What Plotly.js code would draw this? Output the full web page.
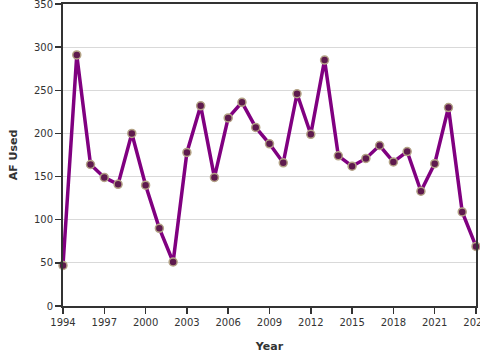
<!DOCTYPE html>
<html>
<head>
<meta charset="utf-8">
<script src="https://cdn.plot.ly/plotly-3.0.1.min.js"></script>
<style>html,body{margin:0;padding:0;background:#fff;}#chart{width:480px;height:360px;}</style>
</head>
<body>
<div id="chart"></div>
<script>
const years = [1994,1995,1996,1997,1998,1999,2000,2001,2002,2003,2004,2005,2006,2007,2008,2009,2010,2011,2012,2013,2014,2015,2016,2017,2018,2019,2020,2021,2022,2023,2024];
const afUsed = [47,291,164,149,141,200,140,90,51,178,232,149,218,236,207,188,166,246,199,285,174,162,171,186,167,179,133,165,230,109,69];
const xTicks = [1994,1997,2000,2003,2006,2009,2012,2015,2018,2021,2024];
const yTicks = [0,50,100,150,200,250,300,350];

const trace = {
  x: years, y: afUsed, type: 'scatter', mode: 'lines+markers',
  line: {color: '#800080', width: 3.5},
  marker: {color: '#5e1a4e', size: 8, line: {color: '#b3a285', width: 1.5}},
  cliponaxis: false, hoverinfo: 'skip'
};
const font = {family: 'DejaVu Sans, sans-serif', size: 10, color: '#333'};
const layout = {
  width: 480, height: 360,
  margin: {l: 63, r: 4, t: 4, b: 53.5},
  paper_bgcolor: '#fff', plot_bgcolor: '#fff',
  showlegend: false, font: font,
  xaxis: {
    range: [1994, 2024], tickvals: xTicks, ticktext: xTicks.map(String),
    showgrid: false, zeroline: false,
    showline: true, linecolor: '#333', linewidth: 2, mirror: true,
    ticks: 'outside', ticklen: 6, tickcolor: '#333', tickwidth: 1.5,
    tickfont: font, ticklabeloverflow: 'allow',
    title: {text: '<b>Year</b>', font: {family: 'DejaVu Sans, sans-serif', size: 11, color: '#333'}, standoff: 15}
  },
  yaxis: {
    range: [0, 350], tickvals: yTicks, ticktext: yTicks.map(String),
    showgrid: true, gridcolor: '#d9d9d9', gridwidth: 1, zeroline: false,
    showline: true, linecolor: '#333', linewidth: 2, mirror: true,
    ticks: 'outside', ticklen: 6, tickcolor: '#333', tickwidth: 1.5,
    tickfont: font, ticklabeloverflow: 'allow',
    title: {text: '<b>AF Used</b>', font: {family: 'DejaVu Sans, sans-serif', size: 11, color: '#333'}, standoff: 14}
  }
};
Plotly.newPlot('chart', [trace], layout, {displayModeBar: false, staticPlot: true});
</script>
</body>
</html>
